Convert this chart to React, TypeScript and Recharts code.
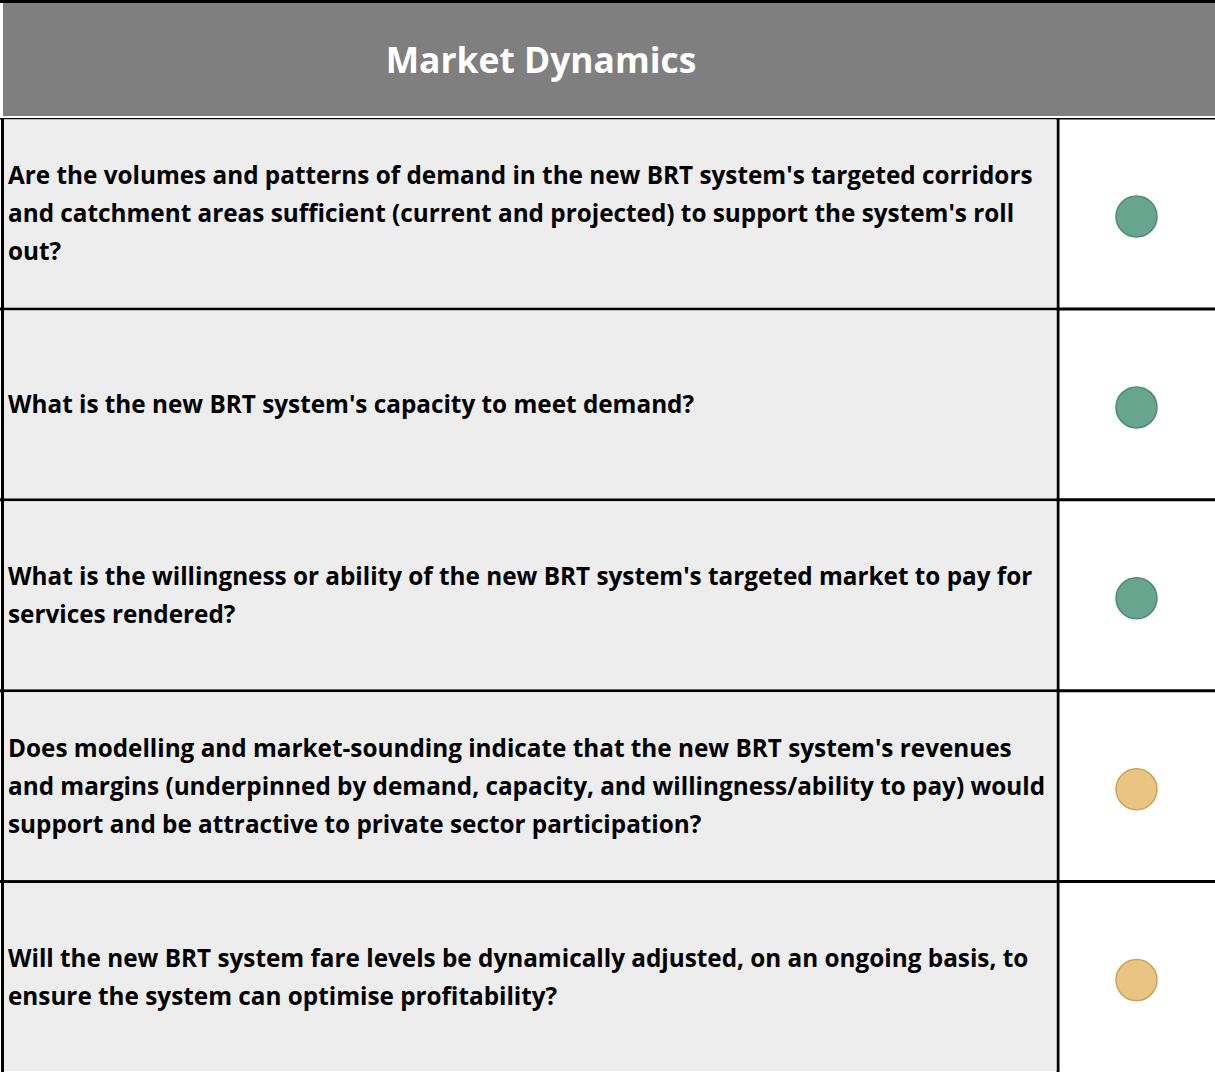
import { BarChart, Bar, XAxis, YAxis } from "recharts";

// table text, one entry per row, split where the reference wraps
const questionLines: string[][] = [
  [
    "Are the volumes and patterns of demand in the new BRT system's targeted corridors",
    "and catchment areas sufficient (current and projected) to support the system's roll",
    "out?",
  ],
  ["What is the new BRT system's capacity to meet demand?"],
  [
    "What is the willingness or ability of the new BRT system's targeted market to pay for",
    "services rendered?",
  ],
  [
    "Does modelling and market-sounding indicate that the new BRT system's revenues",
    "and margins (underpinned by demand, capacity, and willingness/ability to pay) would",
    "support and be attractive to private sector participation?",
  ],
  [
    "Will the new BRT system fare levels be dynamically adjusted, on an ongoing basis, to",
    "ensure the system can optimise profitability?",
  ],
];

const ratings: string[] = ["green", "green", "green", "amber", "amber"];

const title = "Market Dynamics";

const ratingStyle: Record<string, { fill: string; stroke: string }> = {
  green: { fill: "#68a58e", stroke: "#4f8a73" },
  amber: { fill: "#e9c483", stroke: "#c9a45d" },
};

const W = 1215;
const H = 1072;
const HEADER_H = 117.5;
const CHART_H = H - HEADER_H;
const LABEL_W = 1058;
const ROW_H = CHART_H / questionLines.length;
const LINE_H = 38;
const FONT = "'Open Sans', Lato, sans-serif";

const rows = questionLines.map((lines, i) => ({
  question: lines.join(" "),
  rating: ratings[i],
  cell: 1,
}));

type TickProps = { x?: number; y?: number; payload?: { value: string; index: number } };

const QuestionTick = ({ y = 0, payload }: TickProps) => {
  const idx = payload?.index ?? 0;
  const lines = questionLines[idx];
  const first = y + 8.5 - ((lines.length - 1) * LINE_H) / 2;
  return (
    <g>
      <rect x={4} y={y - ROW_H / 2 + 1.5} width={LABEL_W - 5.5} height={ROW_H - 3} fill="#ededed" />
      <text x={8} y={first} fontFamily={FONT} fontWeight={700} fontSize={24.3} fill="#000" textAnchor="start">
        {lines.map((l, k) => (
          <tspan key={k} x={8} y={first + k * LINE_H}>
            {l}
          </tspan>
        ))}
      </text>
    </g>
  );
};

type CellProps = { x?: number; y?: number; width?: number; height?: number; payload?: { rating: string } };

const RatingCell = ({ x = 0, y = 0, width = 0, height = 0, payload }: CellProps) => {
  const s = ratingStyle[payload?.rating ?? "green"];
  return (
    <g>
      <rect x={x} y={y} width={width} height={height} fill="#fff" />
      <line x1={0} x2={W} y1={y} y2={y} stroke="#000" strokeWidth={3} />
      <line x1={2.5} x2={2.5} y1={y} y2={y + height} stroke="#000" strokeWidth={3} />
      <line x1={x} x2={x} y1={y} y2={y + height} stroke="#000" strokeWidth={3} />
      <circle cx={x + width / 2} cy={y + height / 2 + 3} r={20.5} fill={s.fill} stroke={s.stroke} strokeWidth={1.5} />
    </g>
  );
};

export default function App() {
  return (
    <div style={{ position: "absolute", left: 0, top: 0, width: W, height: H, background: "#fff" }}>
      <div style={{ position: "absolute", left: 0, top: 0, width: W, height: 3, background: "#000" }} />
      <div
        style={{
          position: "absolute",
          left: 3,
          top: 3,
          width: W - 3,
          height: 113,
          background: "#7f7f7f",
        }}
      >
        <div
          style={{
            position: "absolute",
            left: 0,
            width: 1076,
            top: 0,
            height: 113,
            lineHeight: "113px",
            textAlign: "center",
            color: "#fff",
            fontFamily: FONT,
            fontWeight: 700,
            fontSize: 35.4,
          }}
        >
          {title}
        </div>
      </div>
      <div style={{ position: "absolute", left: 0, top: HEADER_H }}>
        <BarChart
          width={W}
          height={CHART_H}
          data={rows}
          layout="vertical"
          barCategoryGap={0}
          margin={{ top: 0, right: 0, bottom: 0, left: 0 }}
        >
          <XAxis type="number" domain={[0, 1]} hide />
          <YAxis
            type="category"
            dataKey="question"
            width={LABEL_W}
            axisLine={false}
            tickLine={false}
            tick={<QuestionTick />}
            interval={0}
          />
          <Bar dataKey="cell" shape={<RatingCell />} isAnimationActive={false} />
        </BarChart>
      </div>
    </div>
  );
}
